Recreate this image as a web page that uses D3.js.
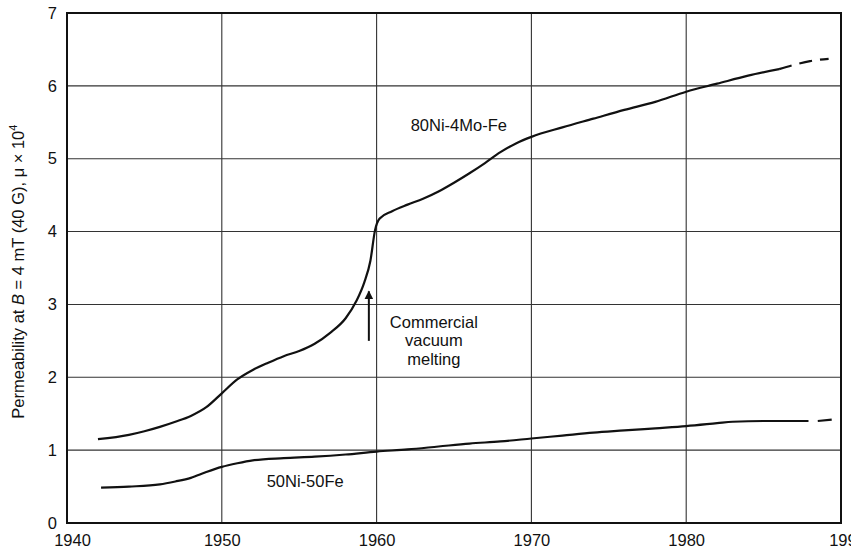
<!DOCTYPE html>
<html>
<head>
<meta charset="utf-8">
<script src="https://cdn.jsdelivr.net/npm/d3@7"></script>
<style>
  body { margin: 0; background: #fff; }
  svg { display: block; font-family: Arial, "Liberation Sans", sans-serif; }
</style>
</head>
<body>
<svg width="851" height="550"></svg>
<script>
// Data
const yearTicks = [1940, 1950, 1960, 1970, 1980, 1990];
const valueTicks = [0, 1, 2, 3, 4, 5, 6, 7];

// 80Ni-4Mo-Fe, solid part and dashed extrapolation
const moYears  = [1942, 1944, 1945, 1946, 1947, 1948, 1949, 1950, 1951, 1952, 1953, 1954, 1955, 1956, 1957, 1958, 1958.7, 1959.2, 1959.6, 1959.9, 1960.2, 1961, 1962, 1963, 1964, 1965, 1966, 1967, 1968, 1969, 1970, 1972, 1974, 1976, 1978, 1980, 1982, 1984, 1986];
const moValues = [1.15, 1.21, 1.26, 1.32, 1.39, 1.47, 1.59, 1.78, 1.97, 2.10, 2.20, 2.29, 2.36, 2.46, 2.61, 2.81, 3.05, 3.30, 3.60, 4.02, 4.18, 4.28, 4.37, 4.45, 4.55, 4.67, 4.80, 4.94, 5.09, 5.21, 5.30, 5.43, 5.55, 5.67, 5.78, 5.92, 6.03, 6.14, 6.23];
const moDashYears  = [1986, 1987, 1988, 1989.2];
const moDashValues = [6.23, 6.29, 6.34, 6.37];

// 50Ni-50Fe
const feYears  = [1942.2, 1944, 1946, 1947, 1948, 1949, 1950, 1951, 1952, 1954, 1956, 1958, 1960, 1962, 1964, 1966, 1968, 1970, 1972, 1974, 1976, 1978, 1980, 1982, 1983, 1985, 1987.9];
const feValues = [0.485, 0.50, 0.53, 0.57, 0.62, 0.70, 0.77, 0.82, 0.86, 0.89, 0.91, 0.94, 0.98, 1.01, 1.05, 1.09, 1.12, 1.16, 1.20, 1.24, 1.27, 1.30, 1.33, 1.37, 1.39, 1.40, 1.40];
const feDashYears  = [1988.5, 1989.4];
const feDashValues = [1.40, 1.42];

const zip = (xs, ys) => xs.map((x, i) => [x, ys[i]]);

function draw () {
  let svg = d3.select('svg');
  let margin = { top: 13, right: 10, bottom: 27, left: 67 };
  let width  = 851 - margin.left - margin.right,
      height = 550 - margin.top - margin.bottom;

  let g = svg.append('g').attr('transform', `translate(${margin.left},${margin.top})`);

  let x = d3.scaleLinear().domain([1940, 1990]).range([0, width]);
  let y = d3.scaleLinear().domain([0, 7]).range([height, 0]);

  // Grid
  g.append('g')
    .selectAll('line')
    .data(yearTicks.slice(1, -1))
    .enter().append('line')
      .attr('x1', d => x(d)).attr('x2', d => x(d))
      .attr('y1', 0).attr('y2', height)
      .attr('stroke', '#333').attr('stroke-width', 1.1);

  g.append('g')
    .selectAll('line')
    .data(valueTicks.slice(1, -1))
    .enter().append('line')
      .attr('y1', d => y(d)).attr('y2', d => y(d))
      .attr('x1', 0).attr('x2', width)
      .attr('stroke', '#333').attr('stroke-width', 1.1);

  // Axes (tick labels only, frame drawn separately)
  let xAxis = d3.axisBottom(x).tickValues(yearTicks).tickSize(0).tickPadding(11).tickFormat(d3.format('d'));
  let yAxis = d3.axisLeft(y).tickValues(valueTicks).tickSize(0).tickPadding(10).tickFormat(d3.format('d'));

  g.append('g')
    .attr('transform', `translate(0,${height})`)
    .call(xAxis)
    .call(s => s.select('.domain').remove())
    .call(s => s.selectAll('text').attr('font-size', 16.5).attr('fill', '#111').attr('font-family', null)
      .attr('dx', d => d === 1940 ? 5 : d === 1990 ? 6 : 0));

  g.append('g')
    .call(yAxis)
    .call(s => s.select('.domain').remove())
    .call(s => s.selectAll('text').attr('font-size', 16.5).attr('fill', '#111').attr('font-family', null));

  g.append('rect')
    .attr('width', width).attr('height', height)
    .attr('fill', 'none').attr('stroke', '#111').attr('stroke-width', 2);

  // Curves
  let line = d3.line()
    .x(d => x(d[0]))
    .y(d => y(d[1]))
    .curve(d3.curveMonotoneX);

  let curves = [
    { pts: zip(moYears, moValues), dash: null },
    { pts: zip(moDashYears, moDashValues), dash: '13,8' },
    { pts: zip(feYears, feValues), dash: null },
    { pts: zip(feDashYears, feDashValues), dash: null }
  ];

  g.selectAll('.curve')
    .data(curves)
    .enter().append('path')
      .attr('class', 'curve')
      .attr('d', d => line(d.pts))
      .attr('fill', 'none')
      .attr('stroke', '#111')
      .attr('stroke-width', 2.2)
      .attr('stroke-dasharray', d => d.dash);

  // Labels
  g.append('text')
    .attr('x', x(1962.2)).attr('y', y(5.38))
    .attr('font-size', 16.5).attr('fill', '#111')
    .text('80Ni-4Mo-Fe');

  g.append('text')
    .attr('x', x(1952.9)).attr('y', y(0.5))
    .attr('font-size', 16.5).attr('fill', '#111')
    .text('50Ni-50Fe');

  let note = g.append('text')
    .attr('font-size', 16.5).attr('fill', '#111')
    .attr('text-anchor', 'middle');
  ['Commercial', 'vacuum', 'melting'].forEach((t, i) => {
    note.append('tspan')
      .attr('x', x(1963.7))
      .attr('y', y(2.68) + i * 18.5)
      .text(t);
  });

  // Arrow
  svg.append('defs').append('marker')
    .attr('id', 'head')
    .attr('viewBox', '0 0 10 10')
    .attr('refX', 9).attr('refY', 5)
    .attr('markerWidth', 4.5).attr('markerHeight', 4.5)
    .attr('orient', 'auto')
    .append('path').attr('d', 'M0,0L10,5L0,10Z').attr('fill', '#111');

  g.append('line')
    .attr('x1', x(1959.5)).attr('x2', x(1959.5))
    .attr('y1', y(2.5)).attr('y2', y(3.18))
    .attr('stroke', '#111').attr('stroke-width', 2)
    .attr('marker-end', 'url(#head)');

  // Y title
  let title = svg.append('text')
    .attr('transform', `translate(24,${margin.top + y(3.45)}) rotate(-90)`)
    .attr('text-anchor', 'middle')
    .attr('font-size', 16.5).attr('fill', '#111');
  title.append('tspan').text('Permeability at ');
  title.append('tspan').attr('font-style', 'italic').text('B');
  title.append('tspan').text(' = 4 mT (40 G), μ × 10');
  title.append('tspan').attr('font-size', 11).attr('dy', -7).text('4');
}

document.addEventListener('DOMContentLoaded', draw);
</script>
</body>
</html>
